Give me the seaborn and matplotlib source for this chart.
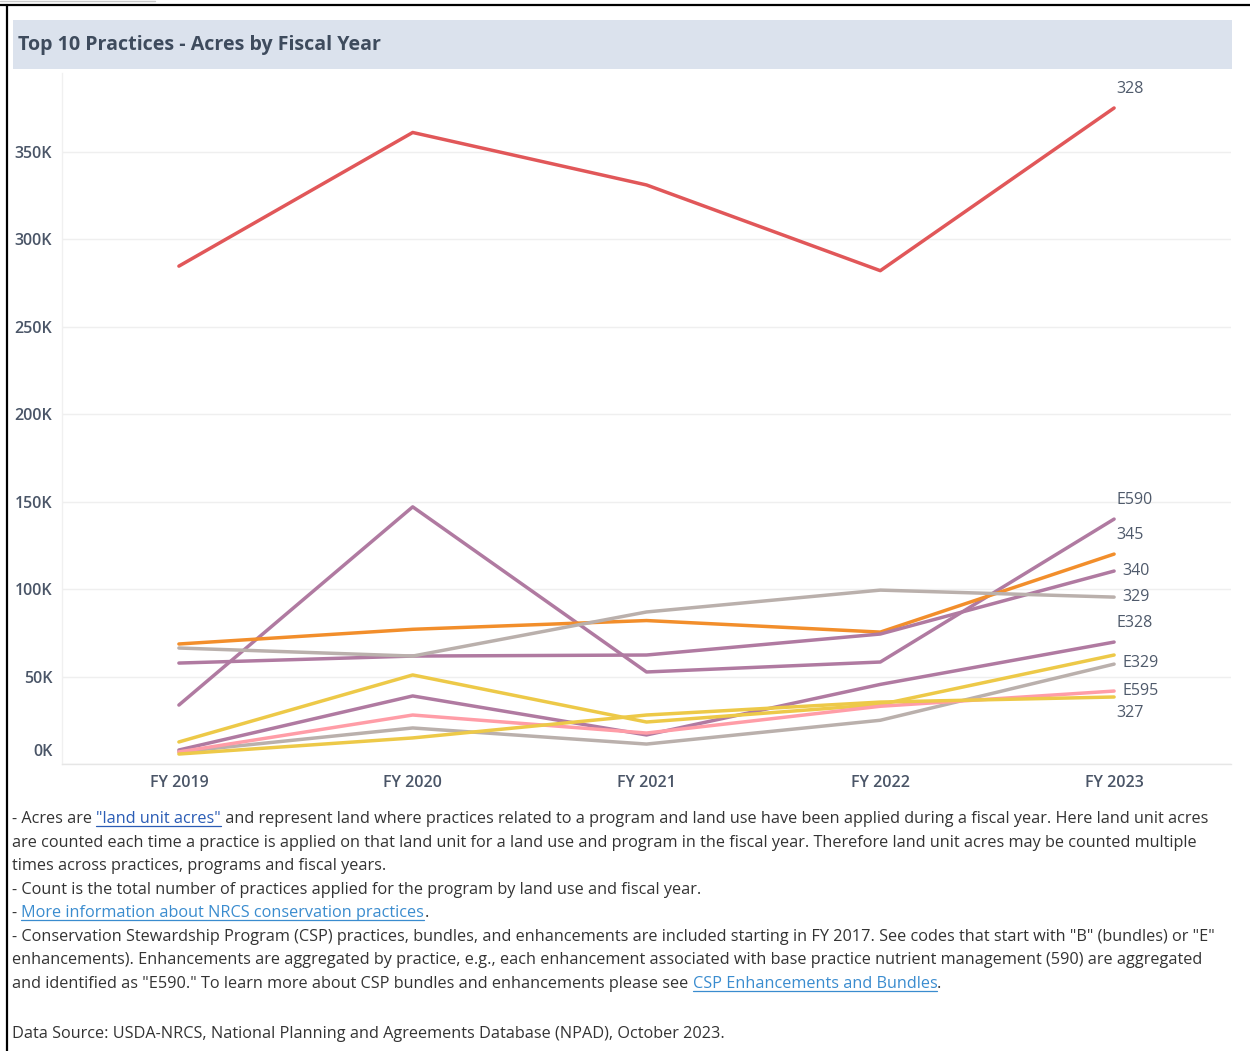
import matplotlib
matplotlib.use("Agg")
import matplotlib.pyplot as plt
from matplotlib.lines import Line2D
from matplotlib.patches import Rectangle
from matplotlib.transforms import ScaledTranslation
import numpy as np
import pandas as pd
import seaborn as sns

# ---- data (acres) -------------------------------------------------------
years = ["FY 2019", "FY 2020", "FY 2021", "FY 2022", "FY 2023"]

practices = ["328", "E590", "345", "340", "329", "E328", "E329", "590", "E595", "327"]

acres_328 = [284600, 361000, 331000, 282000, 375000]
acres_E590 = [33700, 147000, 52600, 58300, 140000]
acres_345 = [68600, 77000, 82000, 75400, 120000]
acres_340 = [57700, 61700, 62300, 74300, 110300]
acres_329 = [66300, 61700, 86900, 99400, 95400]
acres_E328 = [8000, 38900, 16600, 45500, 69700]
acres_E329 = [12600, 50900, 24000, 34000, 62300]
acres_590 = [6900, 20600, 11400, 25000, 57100]
acres_E595 = [6900, 28000, 17700, 33000, 41700]
acres_327 = [5700, 14900, 28000, 35400, 38300]

series_values = [acres_328, acres_E590, acres_345, acres_340, acres_329,
                 acres_E328, acres_E329, acres_590, acres_E595, acres_327]

line_colors = ["#e15759", "#b07aa1", "#f28e2b", "#b07aa1", "#bab0ac",
               "#b07aa1", "#edc948", "#bab0ac", "#ff9da7", "#edc948"]

# end-of-line labels: text shown (None = no label) and where it sits
end_labels = ["328", "E590", "345", "340", "329", "E328", "E329", None, "E595", "327"]
label_place = ["above", "above", "above", "right", "right",
               "above", "right_low", None, "right", "below"]

y_ticks = [0, 50000, 100000, 150000, 200000, 250000, 300000, 350000]

df = pd.DataFrame(
    [(p, y, v) for p, vals in zip(practices, series_values) for y, v in zip(years, vals)],
    columns=["Practice", "Fiscal Year", "Acres"],
)

# ---- figure --------------------------------------------------------------
W, H = 1250, 1051
sns.set_theme(style="white")
plt.rcParams["font.family"] = ["Open Sans", "DejaVu Sans"]

fig = plt.figure(figsize=(W / 100, H / 100), dpi=100)
fig.patch.set_facecolor("white")


def fx(px):
    return px / W


def fy(py):
    return 1 - py / H


# outer frame
fig.add_artist(Line2D([0, 1], [fy(5), fy(5)], color="black", lw=1.6))
fig.add_artist(Line2D([fx(7), fx(7)], [0, fy(5)], color="black", lw=1.6))
fig.add_artist(Line2D([0, fx(155)], [fy(1), fy(1)], color="#c8c8c8", lw=1.0))

# title band
fig.add_artist(Rectangle((fx(13), fy(69)), fx(1232) - fx(13), fy(20) - fy(69),
                         transform=fig.transFigure, facecolor="#dbe2ed", edgecolor="none"))
fig.text(fx(18), fy(45), "Top 10 Practices - Acres by Fiscal Year", fontsize=14.1,
         fontweight="bold", color="#3e4b5d", va="center", ha="left")

# plot area
ax = fig.add_axes([fx(62), fy(764), fx(1231) - fx(62), fy(73) - fy(764)])
palette = dict(zip(practices, line_colors))
sns.lineplot(data=df, x="Fiscal Year", y="Acres", hue="Practice", hue_order=practices,
             palette=palette, lw=2.5, legend=False, sort=False, ax=ax)

ax.set_xlim(-0.5, 4.5)
ax.set_ylim(0, 395000)
ax.set_xlabel("")
ax.set_ylabel("")
ax.set_facecolor("white")

ax.set_yticks(y_ticks)
ax.set_yticklabels([f"{v // 1000}K" for v in y_ticks])
ax.yaxis.grid(True, color="#efefef", lw=1.0)
ax.xaxis.grid(False)
ax.tick_params(axis="y", length=0, pad=7, labelsize=11.5, labelcolor="#4a5567")
ax.tick_params(axis="x", length=0, pad=8, labelsize=11.5, labelcolor="#4a5567")
for lab in ax.get_yticklabels() + ax.get_xticklabels():
    lab.set_fontweight("semibold")
# the bottom value label sits above the baseline
zero_lab = ax.get_yticklabels()[0]
zero_lab.set_transform(zero_lab.get_transform() + ScaledTranslation(0, 0.14, fig.dpi_scale_trans))

ax.set_xticks(np.arange(len(years)) + 0.5, minor=True)
ax.tick_params(axis="x", which="minor", length=4, color="#e4e4e4", width=1)

for side in ["top", "right"]:
    ax.spines[side].set_visible(False)
ax.spines["left"].set_color("#f0f0f0")
ax.spines["bottom"].set_color("#e6e6e6")
ax.spines["left"].set_linewidth(1)
ax.spines["bottom"].set_linewidth(1)

# end-of-line labels
offsets = {"above": (2, 19, "left", "center"),
           "below": (2, -16, "left", "center"),
           "right": (8, 0, "left", "center"),
           "right_low": (8, -8, "left", "center")}
last = len(years) - 1
for text, place, vals in zip(end_labels, label_place, series_values):
    if text is None:
        continue
    dx, dy, ha, va = offsets[place]
    ax.annotate(text, xy=(last, vals[-1]), xytext=(dx, dy), textcoords="offset pixels",
                ha=ha, va=va, fontsize=11.5, color="#4f5a6b", annotation_clip=False)

# ---- footnotes -----------------------------------------------------------
FS = 11.7
TXT = "#333333"
LINK1 = "#2a5cb5"
LINK2 = "#3a8ccf"

fig.canvas.draw()
renderer = fig.canvas.get_renderer()


def text_width(s):
    probe = fig.text(0, 0, s + "|", fontsize=FS)
    bar = fig.text(0, 0, "|", fontsize=FS)
    w = probe.get_window_extent(renderer).width - bar.get_window_extent(renderer).width
    probe.remove()
    bar.remove()
    return w


def rich_line(x_px, base_px, segments):
    prefix = ""
    for s, color, underline in segments:
        x = x_px + text_width(prefix) if prefix else x_px
        t = fig.text(fx(x), fy(base_px), s, fontsize=FS, color=color, ha="left", va="baseline")
        if underline:
            w = t.get_window_extent(renderer).width
            fig.add_artist(Line2D([fx(x), fx(x + w)], [fy(base_px + 2.5), fy(base_px + 2.5)],
                                  color=color, lw=0.9))
        prefix += s


notes = [
    (823, [("- Acres are ", TXT, False), ('"land unit acres"', LINK1, True),
           (" and represent land where practices related to a program and land use have been "
            "applied during a fiscal year. Here land unit acres", TXT, False)]),
    (847, [("are counted each time a practice is applied on that land unit for a land use and "
            "program in the fiscal year. Therefore land unit acres may be counted multiple", TXT, False)]),
    (870, [("times across practices, programs and fiscal years.", TXT, False)]),
    (894, [("- Count is the total number of practices applied for the program by land use and "
            "fiscal year.", TXT, False)]),
    (917, [("- ", TXT, False), ("More information about NRCS conservation practices", LINK2, True),
           (".", TXT, False)]),
    (941, [('- Conservation Stewardship Program (CSP) practices, bundles, and enhancements are '
            'included starting in FY 2017. See codes that start with "B" (bundles) or "E"', TXT, False)]),
    (964, [("enhancements). Enhancements are aggregated by practice, e.g., each enhancement "
            "associated with base practice nutrient management (590) are aggregated", TXT, False)]),
    (988, [('and identified as "E590." To learn more about CSP bundles and enhancements please see ',
            TXT, False), ("CSP Enhancements and Bundles", LINK2, True), (".", TXT, False)]),
    (1038, [("Data Source: USDA-NRCS, National Planning and Agreements Database (NPAD), "
             "October 2023.", TXT, False)]),
]
for base, segs in notes:
    rich_line(12, base, segs)

fig.savefig("out.png", dpi=100, facecolor="white")
